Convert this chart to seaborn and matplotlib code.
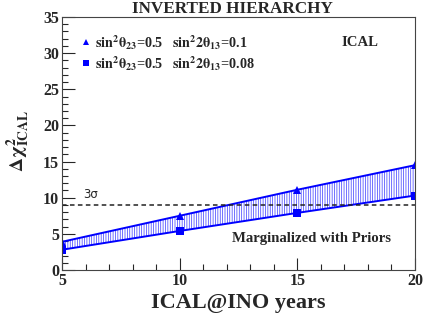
import numpy as np
import matplotlib
matplotlib.use("Agg")
import matplotlib.pyplot as plt
import seaborn as sns
import pandas as pd
from matplotlib.ticker import MultipleLocator

# Data
years = [5, 10, 15, 20]
chi2_th13_01 = [3.9, 7.5, 11.1, 14.5]    # sin^2 2theta13 = 0.1
chi2_th13_008 = [2.8, 5.4, 7.9, 10.3]    # sin^2 2theta13 = 0.08
three_sigma = 9.0

sns.set_style("ticks")
plt.rcParams['font.family'] = ['Liberation Serif', 'DejaVu Serif']
plt.rcParams['mathtext.fontset'] = 'stix'
plt.rcParams['hatch.color'] = '#3a3aff'
plt.rcParams['hatch.linewidth'] = 0.5

df = pd.DataFrame({"years": years, "hi": chi2_th13_01, "lo": chi2_th13_008})

fig = plt.figure(figsize=(4.41, 3.15), dpi=100)
ax = fig.add_axes([0.1406, 0.1429, 0.941 - 0.1406, 0.946 - 0.1429])

blue = '#0000ff'
ax.fill_between(df["years"], df["lo"], df["hi"], facecolor='none',
                edgecolor='#3a3aff', hatch='|' * 7, linewidth=0)
sns.lineplot(data=df, x="years", y="hi", ax=ax, color=blue, marker='^',
             markersize=6, markeredgewidth=0, linewidth=1.4)
sns.lineplot(data=df, x="years", y="lo", ax=ax, color=blue, marker='s',
             markersize=5.5, markeredgewidth=0, linewidth=1.4)
ax.axhline(three_sigma, color='#222222', linestyle=(0, (3, 2.2)), linewidth=1.1)

ax.set_xlim(5, 20)
ax.set_ylim(0, 35)
ax.xaxis.set_major_locator(MultipleLocator(5))
ax.xaxis.set_minor_locator(MultipleLocator(1))
ax.yaxis.set_major_locator(MultipleLocator(5))
ax.yaxis.set_minor_locator(MultipleLocator(1))
ax.tick_params(which='major', direction='in', length=9, width=0.8, labelsize=11.5, pad=2)
ax.tick_params(which='minor', direction='in', length=4.5, width=0.8)
for lab in ax.get_xticklabels() + ax.get_yticklabels():
    lab.set_fontweight('bold')
for s in ax.spines.values():
    s.set_linewidth(0.8)
    s.set_color('#444444')

ax.set_xlabel("ICAL@INO years", fontsize=16, fontweight='bold', labelpad=3)
ax.set_ylabel(r"$\mathbf{\Delta\chi^2_{ICAL}}$", fontsize=14, labelpad=4)
ax.yaxis.set_label_coords(-0.085, 0.51)

fig.text(0.526, 0.972, "INVERTED HIERARCHY", ha='center', va='center',
         fontsize=12.3, fontweight='bold')

# legend-like entries
ax.plot([6.0], [31.5], marker='^', color=blue, markersize=5, markeredgewidth=0)
ax.text(6.4, 31.5, r"$\mathbf{sin^2\theta_{23}}$=0.5   $\mathbf{sin^22\theta_{13}}$=0.1",
        fontsize=10.2, fontweight='bold', va='center')
ax.plot([6.0], [28.6], marker='s', color=blue, markersize=4.5, markeredgewidth=0)
ax.text(6.4, 28.6, r"$\mathbf{sin^2\theta_{23}}$=0.5   $\mathbf{sin^22\theta_{13}}$=0.08",
        fontsize=10.2, fontweight='bold', va='center')
ax.text(17.68, 31.5, "ICAL", fontsize=10.6, fontweight='bold', va='center', ha='center')
ax.text(15.6, 4.3, "Marginalized with Priors", fontsize=10.6, fontweight='bold',
        va='center', ha='center')
ax.text(6.2, 10.4, "3σ", fontsize=8.5, family=['DejaVu Sans'], va='center', ha='center')

fig.savefig("out.png", dpi=100)
